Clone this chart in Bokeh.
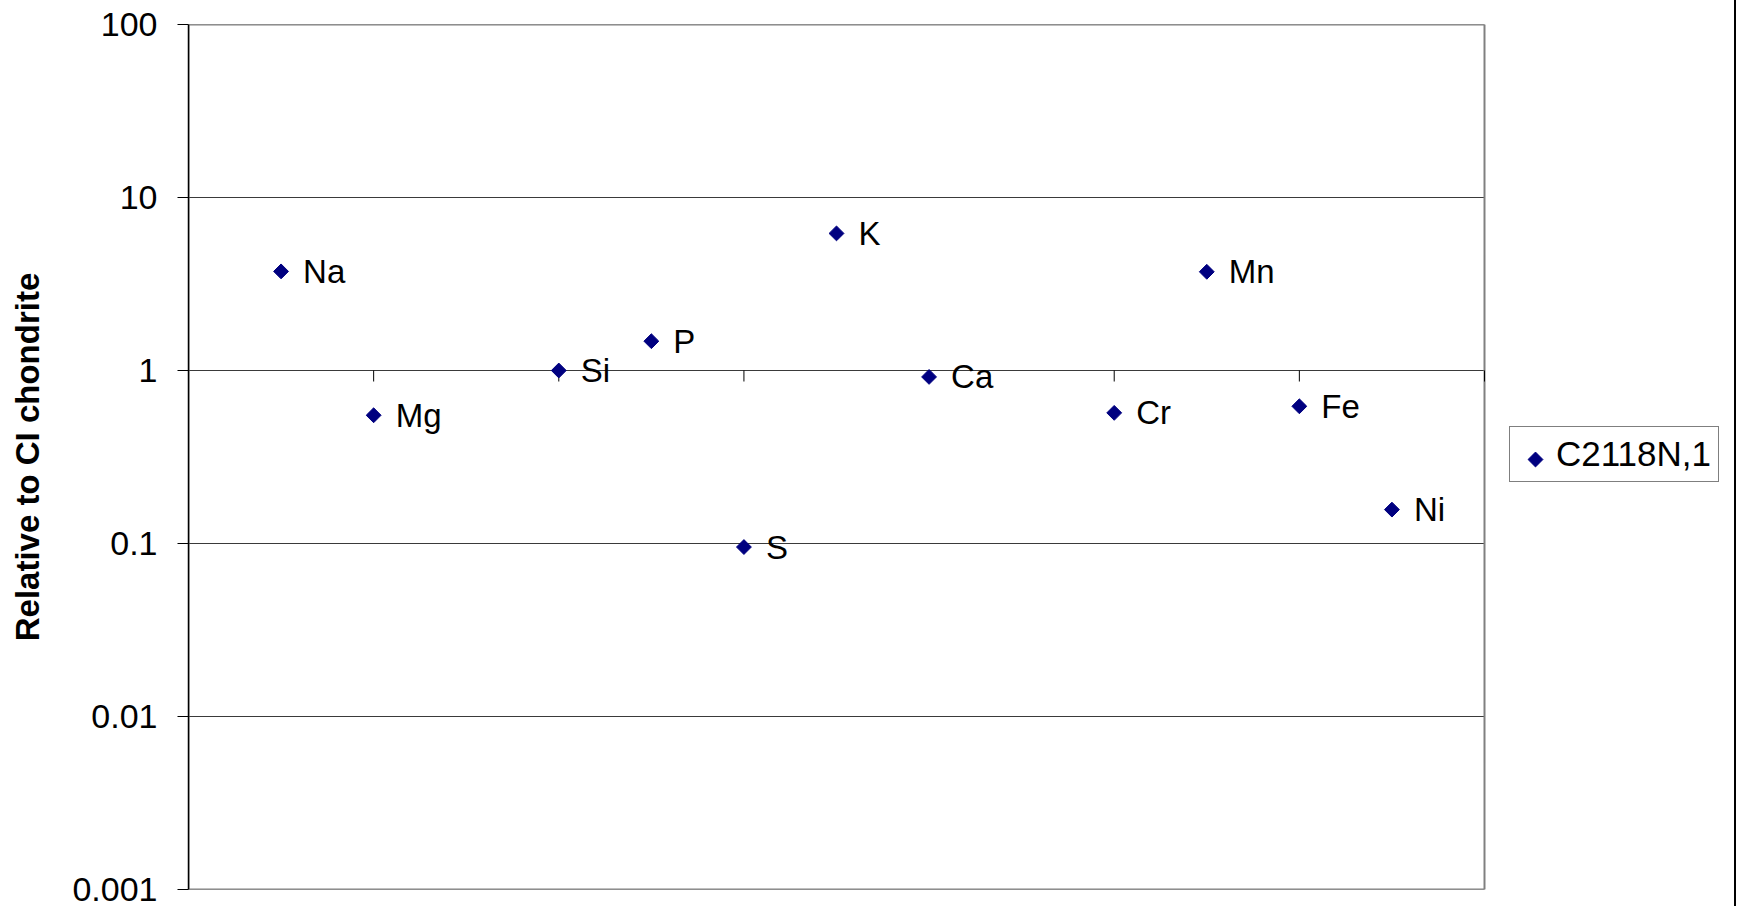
import math
from bokeh.plotting import figure
from bokeh.models import (ColumnDataSource, FixedTicker, Legend, LegendItem,
                          Range1d)
from bokeh.core.properties import value
from bokeh.embed import file_html
from bokeh.resources import INLINE

# ---- data ----
elements = ["Na", "Mg", "Si", "P", "S", "K", "Ca", "Cr", "Mn", "Fe", "Ni"]
x_pos = [1, 2, 4, 5, 6, 7, 8, 10, 11, 12, 13]
ratio = [3.74, 0.551, 1.0, 1.477, 0.0954, 6.2, 0.918, 0.569, 3.72, 0.621, 0.157]
series_name = "C2118N,1"
y_ticks = [0.001, 0.01, 0.1, 1, 10, 100]
y_tick_labels = ["0.001", "0.01", "0.1", "1", "10", "100"]
x_ticks = [0, 2, 4, 6, 8, 10, 12, 14]
y_label = "Relative to CI chondrite"

# ---- layout (pixels) ----
FONT = "Liberation Sans"
W, H = 1736, 906
BL, BR, BT, BB = 188, 2, 24, 17
PLOT_W = 1296                      # width of the plotting area (x 0..14)
LEG_LEFT, LEG_BOTTOM = 1509, 482   # legend box position on the page
LEG_KEY_X, LEG_KEY_Y = 1535, 459   # legend key (diamond) centre on the page
frame_w = W - BL - BR
frame_h = H - BT - BB
x_min, x_max = x_ticks[0], x_ticks[-1]
x_end = x_min + (x_max - x_min) * frame_w / PLOT_W   # room for the legend
decade_px = frame_h / 5.0
px_per_x = PLOT_W / (x_max - x_min)

p = figure(width=W, height=H, output_backend="svg", toolbar_location=None,
           y_axis_type="log", x_range=Range1d(x_min, x_end),
           y_range=Range1d(y_ticks[0], y_ticks[-1]),
           min_border_left=BL, min_border_right=BR, min_border_top=BT,
           min_border_bottom=BB, background_fill_color="white",
           border_fill_color="white",
           styles={"border-right": "2px solid #000000"})

p.xaxis.visible = False
p.xgrid.visible = False
p.ygrid.visible = False
p.outline_line_color = None

p.yaxis.ticker = FixedTicker(ticks=y_ticks)
p.yaxis.major_label_overrides = {t: l for t, l in zip(y_ticks, y_tick_labels)}
p.yaxis.major_label_text_font = FONT
p.yaxis.major_label_text_font_size = "34px"
p.yaxis.major_label_text_color = "black"
p.yaxis.major_label_standoff = 20
p.yaxis.major_tick_out = 11
p.yaxis.major_tick_in = 0
p.yaxis.major_tick_line_color = "black"
p.yaxis.minor_tick_line_color = None
p.yaxis.axis_line_color = "black"
p.yaxis.axis_line_width = 1.5
p.yaxis.axis_label = y_label
p.yaxis.axis_label_text_font = FONT
p.yaxis.axis_label_text_font_style = "bold"
p.yaxis.axis_label_text_font_size = "33px"
p.yaxis.axis_label_text_color = "black"
p.yaxis.axis_label_standoff = 23

# horizontal gridlines limited to the plot area
p.segment(x0=[x_min] * len(y_ticks), y0=y_ticks, x1=[x_max] * len(y_ticks),
          y1=y_ticks, line_color="#3a3a3a", line_width=1.2)

# plot-area border (grey)
p.quad(left=[x_min], right=[x_max], bottom=[y_ticks[0]], top=[y_ticks[-1]],
       fill_color=None, line_color="#808080", line_width=2)

# x-axis (crossing at y = 1) tick marks hanging below the line
tick_len = 11
p.segment(x0=x_ticks, y0=[1] * len(x_ticks), x1=x_ticks,
          y1=[10 ** (-tick_len / decade_px)] * len(x_ticks),
          line_color="black", line_width=1)

MARK = dict(marker="square", angle=math.pi / 4, size=10.5,
            fill_color="#000080", line_color="#000080")

src = ColumnDataSource(dict(x=x_pos, y=ratio, name=elements))
r = p.scatter("x", "y", source=src, **MARK)
p.text("x", "y", text="name", source=src, x_offset=22, text_align="left",
       text_baseline="middle", text_font=value(FONT), text_font_size="33px",
       text_color="black")

# legend box (key glyph reserved but transparent; diamond drawn below)
r_leg = p.scatter(x=[float("nan")], y=[float("nan")], marker="diamond",
                  fill_alpha=0, line_alpha=0)
legend = Legend(items=[LegendItem(label=series_name, renderers=[r_leg])],
                location=(LEG_LEFT - BL, frame_h - (LEG_BOTTOM - BT)),
                margin=0, padding=7,
                label_text_font=FONT, label_text_font_size="35px",
                label_text_color="black",
                label_standoff=5, glyph_width=34, glyph_height=34,
                border_line_color="#000000", border_line_width=1,
                background_fill_alpha=0)
p.add_layout(legend, "center")

# legend key: same diamond as the series, placed at the key's pixel position
key_x = x_min + (LEG_KEY_X - BL) / px_per_x
key_y = 10 ** (math.log10(y_ticks[0]) + ((H - BB) - LEG_KEY_Y) / decade_px)
p.scatter(x=[key_x], y=[key_y], **MARK)

open("out.html", "w").write(file_html(p, INLINE))
